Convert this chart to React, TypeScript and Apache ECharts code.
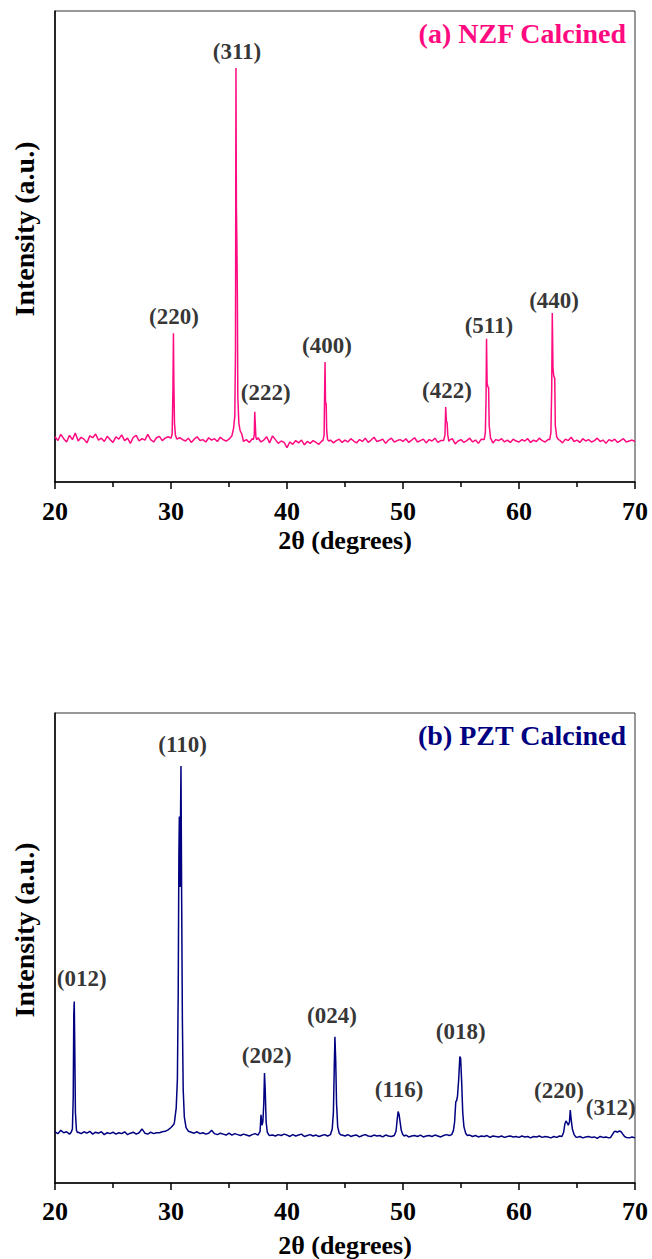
import React, { useEffect, useRef } from "react";
import * as echarts from "echarts";

// x grid of the baseline readings (degrees 2θ)
const BASE_START = 20;
const BASE_STEP = 0.25;
const X_MIN = 20;
const X_MAX = 70;
const X_INTERVAL = 10;

// (a) NZF calcined — baseline readings every 0.25° from 20° to 70°
const NZF_BASE = [
  9.6, 8.8, 10.1, 9.2, 8.5, 9.9, 9.0, 10.4, 8.7, 9.5, 9.1, 8.3, 9.8, 9.4, 10.2, 8.9, 9.3, 8.6, 9.7, 9.0,
  8.4, 9.6, 9.1, 10.0, 8.8, 9.3, 8.2, 9.5, 9.9, 8.7, 9.2, 8.9, 10.1, 9.0, 8.5, 9.4, 9.7, 8.8, 9.3, 9.6,
  9.0, 9.2, 8.6, 9.4, 9.0, 8.7, 9.3, 8.4, 9.1, 9.6, 8.8, 9.0, 8.5, 9.4, 8.9, 9.2, 8.6, 9.5, 9.0, 8.7,
  9.1, 9.8, 10.2, 10.0, 9.3, 8.6, 9.0, 8.4, 9.2, 8.8, 9.4, 8.5, 8.9, 9.6, 8.3, 9.8, 9.0, 8.2, 8.7, 8.4,
  7.3, 8.5, 8.0, 8.8, 8.3, 8.9, 7.9, 8.6, 8.2, 8.8, 8.4, 8.0, 8.7, 9.0, 8.5, 8.9, 8.3, 8.8, 9.1, 8.4,
  8.9, 8.5, 9.2, 8.7, 8.3, 9.0, 8.6, 9.3, 8.4, 8.9, 9.5, 8.6, 8.8, 9.1, 8.2, 8.9, 9.3, 8.5, 8.8, 9.0,
  8.6, 9.2, 8.4, 8.9, 9.4, 8.5, 8.8, 9.1, 8.3, 9.0, 8.7, 9.3, 8.4, 8.8, 9.0, 8.5, 8.9, 9.2, 8.1, 8.7,
  9.0, 8.4, 8.8, 9.3, 8.5, 8.9, 8.2, 9.1, 8.6, 9.4, 8.7, 8.3, 9.0, 8.8, 9.2, 8.5, 8.9, 8.4, 9.1, 8.7,
  8.5, 9.0, 8.7, 9.2, 8.4, 8.9, 8.6, 9.3, 8.8, 8.5, 9.0, 8.7, 9.4, 8.6, 8.9, 8.3, 9.1, 8.8, 9.5, 8.6,
  8.9, 8.4, 9.2, 8.7, 9.0, 8.5, 8.8, 9.3, 8.6, 8.9, 8.2, 9.0, 8.7, 9.1, 8.4, 8.8, 9.2, 8.5, 8.7, 8.9,
  8.6,
];

// (a) NZF peaks: [2θ, intensity] readings
const NZF_PEAK_220 = [[30.0, 9.3], [30.1, 10.2], [30.17, 20], [30.21, 31.6], [30.25, 20.5], [30.3, 12.5], [30.38, 10.0], [30.5, 9.1]];
const NZF_PEAK_311 = [[35.25, 9.8], [35.4, 11.5], [35.5, 14], [35.56, 28], [35.6, 87.9], [35.64, 58], [35.68, 50.7], [35.72, 40], [35.76, 18], [35.85, 12.5], [35.95, 11], [36.1, 10.2]];
const NZF_PEAK_222 = [[37.1, 9.0], [37.18, 10], [37.22, 14.9], [37.27, 12], [37.32, 9.5], [37.4, 9.0]];
const NZF_PEAK_400 = [[43.1, 8.8], [43.2, 10], [43.25, 20], [43.28, 25.5], [43.32, 17], [43.38, 16.5], [43.42, 11], [43.5, 9.0], [43.6, 8.7]];
const NZF_PEAK_422 = [[53.5, 8.8], [53.62, 10], [53.68, 15.9], [53.74, 12.8], [53.8, 12.7], [53.86, 10], [53.95, 8.6]];
const NZF_PEAK_511 = [[57.0, 9.0], [57.1, 10.5], [57.16, 18], [57.2, 30.4], [57.25, 21], [57.32, 20.2], [57.38, 20], [57.43, 12], [57.55, 9.3]];
const NZF_PEAK_440 = [[62.65, 9.0], [62.75, 10.5], [62.82, 20], [62.87, 35.9], [62.93, 24], [63.0, 22.5], [63.08, 22], [63.13, 12], [63.25, 9.6], [63.4, 9.0]];
const NZF_PEAKS = [NZF_PEAK_220, NZF_PEAK_311, NZF_PEAK_222, NZF_PEAK_400, NZF_PEAK_422, NZF_PEAK_511, NZF_PEAK_440];

const NZF_LABEL_TEXT = ["(220)", "(311)", "(222)", "(400)", "(422)", "(511)", "(440)"];
const NZF_LABEL_X = [30.26, 35.69, 38.16, 43.45, 53.79, 57.41, 63.02];
const NZF_LABEL_Y = [35.1, 91.3, 18.9, 28.9, 19.5, 33.3, 38.6];

// (b) PZT calcined — baseline readings every 0.25° from 20° to 70°
const PZT_BASE = [
  10.9, 10.5, 11.2, 10.7, 10.9, 10.4, 11.0, 10.6, 10.8, 10.5, 10.9, 10.6, 11.0, 10.4, 10.8, 10.6, 10.9, 10.3, 10.7, 10.5,
  10.8, 10.4, 10.7, 10.5, 10.9, 10.3, 10.6, 10.8, 10.4, 10.7, 11.5, 10.6, 10.4, 10.8, 10.5, 10.7, 10.7, 10.9, 11.0, 11.3,
  11.8, 12.5, 16.0, 70.0, 30.0, 12.0, 11.0, 10.8, 10.6, 10.9, 10.5, 10.7, 10.4, 10.6, 11.2, 10.5, 10.3, 10.6, 10.4, 10.2,
  10.6, 10.2, 10.5, 10.3, 10.1, 10.4, 10.2, 10.0, 10.3, 10.5, 10.2, 14.0, 17.0, 12.0, 10.1, 10.2, 10.0, 10.3, 10.1, 10.4,
  10.2, 9.9, 10.3, 10.0, 10.2, 10.4, 9.9, 10.1, 10.3, 10.0, 10.2, 9.9, 10.1, 10.3, 10.0, 10.2, 10.4, 10.1, 9.9, 10.2,
  10.0, 10.3, 9.9, 10.1, 10.2, 9.8, 10.1, 10.3, 10.0, 9.9, 10.2, 10.0, 10.1, 9.8, 10.2, 10.0, 9.9, 10.2, 10.1, 10.0,
  9.9, 10.2, 9.8, 10.0, 10.1, 9.9, 10.2, 9.8, 10.0, 10.1, 9.9, 10.2, 10.0, 9.8, 10.1, 10.3, 10.1, 11.0, 11.4, 12.0,
  13.0, 11.4, 10.6, 10.2, 9.9, 10.1, 9.8, 10.0, 9.9, 10.1, 9.7, 10.0, 9.9, 9.8, 10.0, 9.7, 9.9, 10.0, 9.8, 9.9,
  9.7, 10.0, 9.8, 9.9, 9.6, 9.9, 9.8, 10.0, 9.7, 9.9, 9.8, 9.6, 9.9, 9.7, 10.0, 9.8, 9.9, 9.7, 10.0, 9.8,
  9.7, 9.9, 9.6, 9.8, 9.9, 9.7, 9.8, 9.5, 9.9, 9.7, 9.8, 9.6, 9.9, 9.7, 9.8, 9.6, 9.5, 9.7, 9.6, 9.8,
  9.6,
];

// (b) PZT peaks: [2θ, intensity] readings
const PZT_PEAK_012 = [[21.4, 10.8], [21.5, 11.5], [21.57, 18], [21.62, 36], [21.66, 38.6], [21.7, 30], [21.76, 15], [21.85, 11.2], [21.95, 10.7]];
const PZT_PEAK_110 = [[30.3, 13.0], [30.45, 16], [30.55, 22], [30.62, 40], [30.68, 70], [30.72, 78], [30.78, 63], [30.83, 80], [30.86, 88.7], [30.92, 60], [30.98, 35], [31.05, 20], [31.15, 14], [31.3, 11.8], [31.45, 11.2]];
const PZT_PEAK_202 = [[37.55, 10.2], [37.68, 11], [37.76, 14.5], [37.84, 12.3], [37.92, 13], [38.0, 17], [38.06, 23.4], [38.12, 20], [38.2, 13], [38.3, 10.8], [38.45, 10.2]];
const PZT_PEAK_024 = [[43.75, 10.3], [43.9, 11.5], [44.0, 15], [44.07, 24], [44.13, 31.1], [44.2, 26], [44.27, 17], [44.37, 12], [44.5, 10.6], [44.65, 10.2]];
const PZT_PEAK_116 = [[49.25, 10.1], [49.4, 11], [49.5, 13.5], [49.58, 15.2], [49.66, 14.6], [49.75, 13], [49.85, 11.2], [49.98, 10.3], [50.1, 10.0]];
const PZT_PEAK_018 = [[54.2, 10.3], [54.35, 11.2], [54.45, 13], [54.55, 17.3], [54.62, 17.5], [54.7, 18.5], [54.8, 22], [54.9, 26.9], [54.97, 26.5], [55.05, 22], [55.15, 15], [55.25, 12], [55.4, 10.6], [55.55, 10.1]];
const PZT_PEAK_220 = [[63.7, 9.9], [63.85, 10.8], [63.95, 12.5], [64.05, 13.2], [64.15, 12.8], [64.25, 12.3], [64.35, 13], [64.42, 15.5], [64.5, 13.5], [64.6, 11.5], [64.75, 10.3], [64.9, 9.8]];
const PZT_PEAK_312 = [[67.9, 9.7], [68.05, 10.3], [68.2, 10.9], [68.35, 11.0], [68.5, 10.8], [68.65, 11.1], [68.8, 10.9], [68.95, 10.4], [69.1, 9.9], [69.25, 9.7]];
const PZT_PEAKS = [PZT_PEAK_012, PZT_PEAK_110, PZT_PEAK_202, PZT_PEAK_024, PZT_PEAK_116, PZT_PEAK_018, PZT_PEAK_220, PZT_PEAK_312];

const PZT_LABEL_TEXT = ["(012)", "(110)", "(202)", "(024)", "(116)", "(018)", "(220)", "(312)"];
const PZT_LABEL_X = [22.3, 31.0, 38.25, 43.88, 49.66, 54.97, 63.45, 67.9];
const PZT_LABEL_Y = [43.6, 93.2, 27.2, 35.7, 19.8, 32.2, 19.6, 16.0];

const TITLES = ["(a) NZF Calcined", "(b) PZT Calcined"];
const COLORS = ["#ff0a80", "#000080"];
const X_NAME = "2θ (degrees)";
const Y_NAME = "Intensity (a.u.)";

function buildLine(base: number[], peaks: number[][][]) {
  const pts: number[][] = [];
  base.forEach((v, i) => {
    const x = BASE_START + i * BASE_STEP;
    const inside = peaks.some((p) => x >= p[0][0] && x <= p[p.length - 1][0]);
    if (!inside) pts.push([x, v]);
  });
  peaks.forEach((p) => p.forEach((pt) => pts.push(pt)));
  pts.sort((a, b) => a[0] - b[0]);
  return pts;
}

function buildLabels(text: string[], xs: number[], ys: number[]) {
  return text.map((t, i) => ({ value: [xs[i], ys[i]], name: t }));
}

const FONT = "Liberation Serif";

export default function App() {
  const ref = useRef<HTMLDivElement>(null);
  useEffect(() => {
    if (!ref.current) return;
    const chart = echarts.init(ref.current, undefined, { renderer: "svg" });
    const grids = [
      { left: 55, top: 11, width: 580, height: 471 },
      { left: 55, top: 713, width: 580, height: 470 },
    ];
    const nameGaps = [45, 49];
    const labelMargins = [16, 15];
    const yNameCenters = [229, 930];
    const titleCenters = [33, 735];

    const lines = [buildLine(NZF_BASE, NZF_PEAKS), buildLine(PZT_BASE, PZT_PEAKS)];
    const labels = [
      buildLabels(NZF_LABEL_TEXT, NZF_LABEL_X, NZF_LABEL_Y),
      buildLabels(PZT_LABEL_TEXT, PZT_LABEL_X, PZT_LABEL_Y),
    ];

    const option: any = {
      animation: false,
      backgroundColor: "#fff",
      grid: grids.map((g) => ({ ...g, show: true, borderColor: "#333", borderWidth: 1, backgroundColor: "transparent" })),
      xAxis: [0, 1].map((i) => ({
        type: "value",
        gridIndex: i,
        min: X_MIN,
        max: X_MAX,
        interval: X_INTERVAL,
        axisLine: { show: true, onZero: false, lineStyle: { color: "#000", width: 1.5 } },
        axisTick: { show: true, inside: false, length: 7, lineStyle: { color: "#000", width: 1.5 } },
        minorTick: { show: true, splitNumber: 2, length: 5, lineStyle: { color: "#000", width: 1.5 } },
        splitLine: { show: false },
        axisLabel: { margin: labelMargins[i], color: "#000", fontSize: 26, fontWeight: "bold", fontFamily: FONT },
        name: X_NAME,
        nameLocation: "middle",
        nameGap: nameGaps[i],
        nameTextStyle: { color: "#000", fontSize: 26, fontWeight: "bold", fontFamily: FONT },
      })),
      yAxis: [0, 1].map((i) => ({
        type: "value",
        gridIndex: i,
        min: 0,
        max: 100,
        axisLine: { show: true, onZero: false, lineStyle: { color: "#000", width: 1.5 } },
        axisTick: { show: false },
        axisLabel: { show: false },
        splitLine: { show: false },
      })),
      series: [
        ...[0, 1].map((i) => ({
          type: "line",
          xAxisIndex: i,
          yAxisIndex: i,
          data: lines[i],
          showSymbol: false,
          symbol: "none",
          lineStyle: { color: COLORS[i], width: 1.5 },
          silent: true,
          clip: true,
        })),
        ...[0, 1].map((i) => ({
          type: "scatter",
          xAxisIndex: i,
          yAxisIndex: i,
          data: labels[i],
          symbolSize: 1,
          itemStyle: { color: "rgba(0,0,0,0)" },
          silent: true,
          label: {
            show: true,
            position: "inside",
            formatter: "{b}",
            color: "#000",
            fontSize: 23,
            fontWeight: "bold",
            fontFamily: FONT,
          },
        })),
      ],
      graphic: [
        ...[0, 1].map((i) => ({
          type: "text",
          x: 626,
          y: titleCenters[i],
          style: {
            text: TITLES[i],
            fill: COLORS[i],
            fontSize: 28,
            fontWeight: "bold",
            fontFamily: FONT,
            textAlign: "right",
            textVerticalAlign: "middle",
          },
        })),
        ...[0, 1].map((i) => ({
          type: "text",
          x: 24,
          y: yNameCenters[i],
          rotation: Math.PI / 2,
          style: {
            text: Y_NAME,
            fill: "#000",
            fontSize: 28,
            fontWeight: "bold",
            fontFamily: FONT,
            textAlign: "center",
            textVerticalAlign: "middle",
          },
        })),
      ],
    };
    chart.setOption(option);
    return () => chart.dispose();
  }, []);
  return (
    <div
      ref={ref}
      style={{ position: "absolute", left: 0, top: 0, width: 652, height: 1259, background: "#fff" }}
    />
  );
}
